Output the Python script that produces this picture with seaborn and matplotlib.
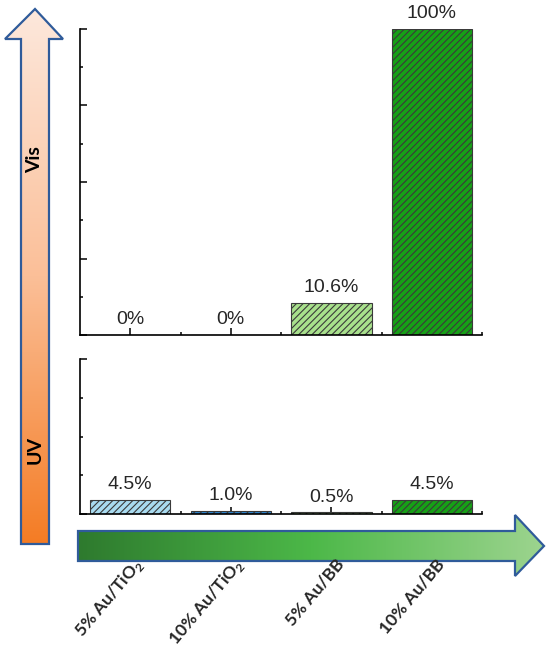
import numpy as np
import pandas as pd
import matplotlib
matplotlib.use("Agg")
import matplotlib.pyplot as plt
import seaborn as sns
from matplotlib.patches import Polygon
from matplotlib.colors import LinearSegmentedColormap
from matplotlib.ticker import FixedLocator
from matplotlib.transforms import ScaledTranslation

# data
catalysts = ["5% Au/TiO$_\\mathbf{2}$", "10% Au/TiO$_\\mathbf{2}$", "5% Au/BB", "10% Au/BB"]
vis_values = [0, 0, 10.6, 100]
uv_values = [4.5, 1.0, 0.5, 4.5]
vis_labels = ["0%", "0%", "10.6%", "100%"]
uv_labels = ["4.5%", "1.0%", "0.5%", "4.5%"]
bar_colors = ["#a9dbf0", "#2f86d0", "#a8e08c", "#16a016"]

sns.set_theme(style="white")
plt.rcParams["font.family"] = ["Liberation Sans", "DejaVu Sans"]
plt.rcParams["mathtext.fontset"] = "custom"
plt.rcParams["mathtext.rm"] = "Lato"
plt.rcParams["mathtext.bf"] = "Lato:bold"
plt.rcParams["hatch.linewidth"] = 0.8

df_vis = pd.DataFrame({"catalyst": catalysts, "value": vis_values})
df_uv = pd.DataFrame({"catalyst": catalysts, "value": uv_values})

fig = plt.figure(figsize=(5.5, 6.5), dpi=100)

# background layer for the gradient arrows (pixel coordinates)
ov = fig.add_axes([0, 0, 1, 1], zorder=-1)
ov.set_xlim(0, 550)
ov.set_ylim(650, 0)
ov.axis("off")

ax_vis = fig.add_axes([0.1455, 0.4846, 0.731, 0.4708])
ax_uv = fig.add_axes([0.1455, 0.2092, 0.731, 0.2385])


def draw_panel(ax, df, labels, ymax, major, minor):
    sns.barplot(data=df, x="catalyst", y="value", hue="catalyst", palette=bar_colors,
                saturation=1, legend=False, width=0.8, edgecolor="#3a3a3a",
                linewidth=0.8, ax=ax)
    for p in ax.patches:
        p.set_hatch("/////")
    for cont, lab in zip(ax.containers, labels):
        ax.bar_label(cont, labels=[lab], padding=5, fontsize=14, annotation_clip=False)
    ax.set_xlim(-0.5, 3.5)
    ax.set_ylim(0, ymax)
    ax.yaxis.set_major_locator(FixedLocator(major))
    ax.yaxis.set_minor_locator(FixedLocator(minor))
    ax.xaxis.set_minor_locator(FixedLocator([0.5, 1.5, 2.5, 3.5]))
    ax.tick_params(which="both", direction="in", width=1.1, color="black",
                   left=True, bottom=True, labelleft=False)
    ax.tick_params(which="major", length=5)
    ax.tick_params(which="minor", length=2.5)
    for s in ["top", "right"]:
        ax.spines[s].set_visible(False)
    for s in ["left", "bottom"]:
        ax.spines[s].set_color("black")
        ax.spines[s].set_linewidth(1.2)
    ax.set_xlabel("")
    ax.set_ylabel("")


draw_panel(ax_vis, df_vis, vis_labels, 100, [0, 25, 50, 75, 100], [12.5, 37.5, 62.5, 87.5])
ax_vis.tick_params(labelbottom=False)

draw_panel(ax_uv, df_uv, uv_labels, 50, [0, 50], [12.5, 25, 37.5])
ax_uv.tick_params(axis="x", pad=34)
shift = ScaledTranslation(0.1, 0, fig.dpi_scale_trans)
for lab in ax_uv.get_xticklabels():
    lab.set_rotation(50)
    lab.set_ha("right")
    lab.set_va("center")
    lab.set_rotation_mode("anchor")
    lab.set_fontfamily("Lato")
    lab.set_fontweight("bold")
    lab.set_fontsize(12.5)
    lab.set_transform(lab.get_transform() + shift)

# vertical UV -> Vis arrow
up_pts = [(21, 544), (49, 544), (49, 39), (63, 39), (35, 9), (5, 39), (21, 39)]
up = Polygon(up_pts, closed=True, facecolor="none", edgecolor="#2f5b9a", lw=1.6, zorder=3)
ov.add_patch(up)
cm_up = LinearSegmentedColormap.from_list("up", ["#fde8dc", "#fbbf98", "#f47c24"])
grad_v = np.linspace(0, 1, 256).reshape(-1, 1)
im = ov.imshow(grad_v, cmap=cm_up, extent=(5, 63, 544, 9), aspect="auto", origin="upper", zorder=2)
im.set_clip_path(up)
ov.text(35, 160, "Vis", rotation=90, ha="center", va="center", fontsize=14,
        fontweight="bold", family="Lato", color="black", zorder=4)
ov.text(35, 450, "UV", rotation=90, ha="center", va="center", fontsize=14,
        fontweight="bold", family="Lato", color="black", zorder=4)

# horizontal green arrow
right_pts = [(78, 531), (515, 531), (515, 515), (544, 546), (515, 576), (515, 561), (78, 561)]
rt = Polygon(right_pts, closed=True, facecolor="none", edgecolor="#2f5b9a", lw=1.6, zorder=3)
ov.add_patch(rt)
cm_rt = LinearSegmentedColormap.from_list("rt", ["#2e7a2e", "#4cb848", "#9dd48f"])
grad_h = np.linspace(0, 1, 256).reshape(1, -1)
im2 = ov.imshow(grad_h, cmap=cm_rt, extent=(78, 544, 576, 515), aspect="auto", origin="upper", zorder=2)
im2.set_clip_path(rt)

fig.savefig("out.png", dpi=100)
